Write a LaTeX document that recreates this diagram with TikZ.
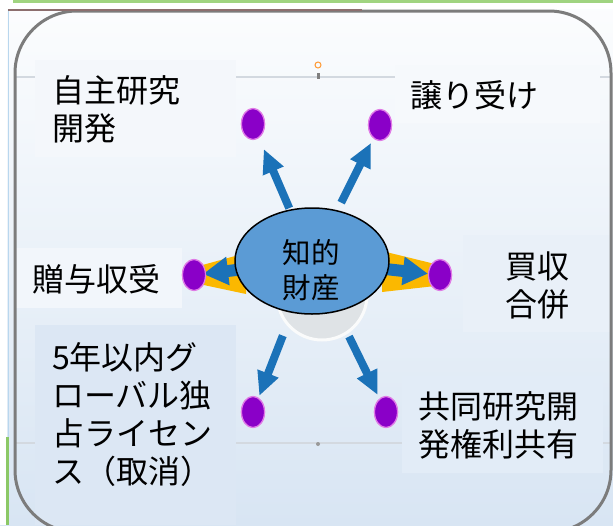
\documentclass[tikz,border=0pt]{standalone}
\usepackage{fontspec}
\setmainfont{Noto Sans CJK JP}
\usetikzlibrary{shapes.geometric,arrows.meta,calc}
\definecolor{bgtop}{HTML}{FCFDFE}
\definecolor{bgbot}{HTML}{D8E5F3}
\definecolor{framec}{HTML}{7C7C7C}
\definecolor{framebr}{HTML}{8C6E6E}
\definecolor{dotc}{HTML}{8A00C8}
\definecolor{dotrim}{HTML}{E07BE6}
\definecolor{arrowc}{HTML}{1B72B8}
\definecolor{ellc}{HTML}{5B9BD5}
\definecolor{bandc}{HTML}{FBB800}
\definecolor{hubc}{HTML}{DFE3E6}
\definecolor{guidec}{HTML}{D3D9E0}
\tikzset{
  lbl/.style={font=\fontsize{32pt}{38pt}\selectfont, align=left, inner sep=0pt, anchor=west},
  dotn/.style={ellipse, minimum width=23pt, minimum height=31pt, inner sep=0pt, fill=dotc, draw=dotrim, line width=1.2pt},
  darr/.style={draw=arrowc, line width=8pt, -{Triangle[length=24pt,width=21pt]}},
  harr/.style={draw=arrowc, line width=12pt, -{Triangle[length=25pt,width=27pt]}},
}
\begin{document}
\begin{tikzpicture}[x=1pt,y=-1pt]
\useasboundingbox (0,0) rectangle (613,525);
% background
\shade[top color=bgtop, bottom color=bgbot] (0,0) rectangle (613,525);
\fill[white] (0,0) rectangle (613,9);
\fill[white] (0,0) rectangle (7,525);
\draw[color={rgb,255:red,160;green,212;blue,128}, line width=3pt] (13,1.5) -- (613,1.5);
\draw[color={rgb,255:red,185;green,215;blue,238}, line width=1.5pt] (8.5,9) -- (8.5,437);
\draw[color={rgb,255:red,140;green,200;blue,102}, line width=2.5pt] (7.5,437) -- (7.5,525);
% guide lines
\draw[guidec, line width=1.5pt] (15,77) -- (611,77);
\draw[guidec, line width=1.5pt] (15,443) -- (611,443);
% label boxes
\fill[color={rgb,255:red,244;green,247;blue,251}] (35,60) rectangle (236,157);
\fill[color={rgb,255:red,246;green,249;blue,252}] (395,65) rectangle (600,123);
\fill[color={rgb,255:red,242;green,246;blue,251}] (15,248) rectangle (182,308);
\fill[color={rgb,255:red,233;green,240;blue,248}] (463,235) rectangle (613,332);
\fill[color={rgb,255:red,220;green,231;blue,244}] (35,325) rectangle (236,525);
\fill[color={rgb,255:red,226;green,236;blue,247}] (402,376) rectangle (603,473);
% handles
\draw[orange!80, line width=1pt] (318,65) circle (3);
\fill[gray] (316.5,73) rectangle (319.5,79);
\fill[gray!80] (318,444) circle (2);
% frame
\draw[framec, line width=3pt, rounded corners=62pt] (15,11) rectangle (611,532);
\draw[framebr, line width=2.5pt] (8,10) -- (362,10);
% hub circle
\fill[hubc, draw=white!85!hubc, line width=3pt] (322,295) circle (45);
% nodes
\node[ellipse, minimum width=154pt, minimum height=106pt, inner sep=0pt] (hub) at (312,261) {};
\node[dotn] (d1) at (253,124) {};
\node[dotn] (d2) at (380,125) {};
\node[dotn] (dL) at (194,275) {};
\node[dotn] (dR) at (440,275) {};
\node[dotn] (d5) at (253,412) {};
\node[dotn] (d6) at (386,412) {};
% yellow bands
\fill[bandc] ($(dL)+(5,-9)$) -- ($(dL)+(52,-22)$) -- ($(dL)+(52,19)$) -- ($(dL)+(5,9)$) -- cycle;
\fill[bandc] ($(dR)+(-5,-11)$) -- ($(dR)+(-58,-24)$) -- ($(dR)+(-58,17)$) -- ($(dR)+(-5,11)$) -- cycle;
% arrows
\draw[darr, shorten <=2pt, shorten >=12pt] (hub) -- (d1);
\draw[darr, shorten <=9pt, shorten >=5pt] (hub) -- (d2);
\draw[darr, shorten <=25pt, shorten >=2pt] (hub) -- (d5);
\draw[darr, shorten <=28pt, shorten >=4pt] (hub) -- (d6);
\draw[harr, shorten <=-10pt, shorten >=-3pt] (hub) -- (dL);
\draw[harr, shorten <=-10pt, shorten >=0pt] (hub) -- (dR);
% hub ellipse drawn on top
\node[ellipse, minimum width=154pt, minimum height=106pt, inner sep=0pt, fill=ellc, draw=black, line width=1.5pt] at (hub) {};
\node[font=\fontsize{28.5pt}{35pt}\selectfont, align=center, inner sep=0pt] (ctext) at (311,270) {知的\\財産};
% redraw dots on top
\foreach \d in {d1,d2,dL,dR,d5,d6} \node[dotn] at (\d) {};
% labels
\node[lbl] (t1) at (52,109) {自主研究\\開発};
\node[lbl] (t2) at (410,95) {譲り受け};
\node[lbl] (t3) at (32,279) {贈与収受};
\node[lbl] (t4) at (505,286) {買収\\合併};
\node[lbl] (t5) at (52,415) {5年以内グ\\ローバル独\\占ライセン\\ス（取消）};
\node[lbl] (t6) at (418,425) {共同研究開\\発権利共有};
\end{tikzpicture}
\end{document}
